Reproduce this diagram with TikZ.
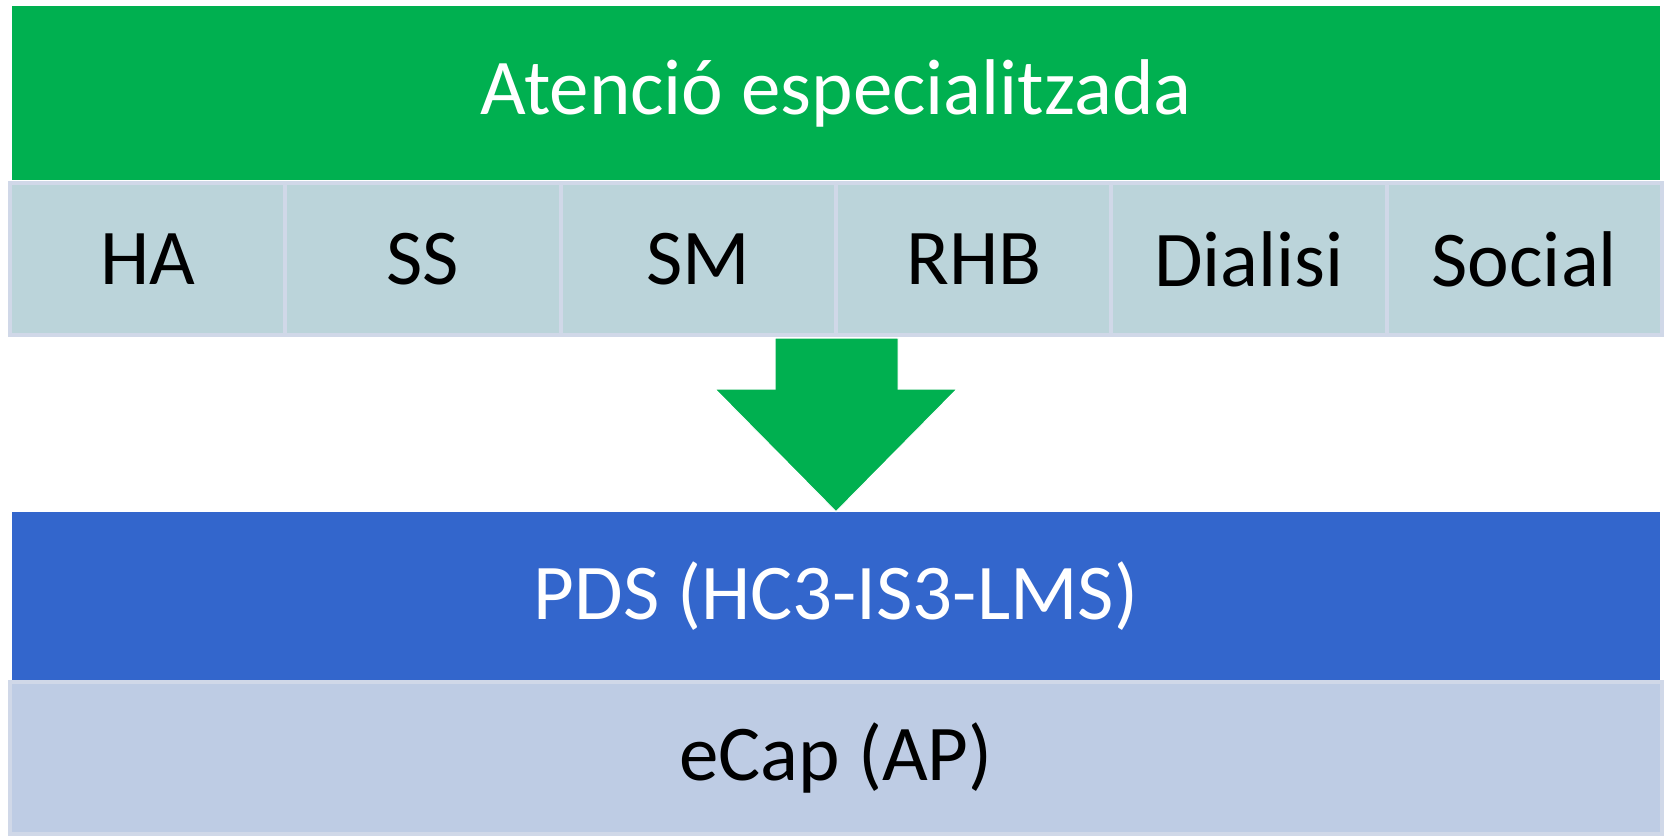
\documentclass[tikz,border=0pt]{standalone}
\usepackage{fontspec}
\setmainfont{Carlito}
\definecolor{specgreen}{RGB}{0,176,80}
\definecolor{cellfill}{RGB}{187,212,218}
\definecolor{cellline}{RGB}{208,216,232}
\definecolor{pdsblue}{RGB}{51,102,204}
\definecolor{apfill}{RGB}{190,204,228}
\begin{document}
\begin{tikzpicture}[x=0.5pt,y=-0.5pt]
    \tikzstyle{band}=[rectangle,inner sep=0pt,font=\fontsize{39.5}{47}\selectfont]
    \tikzstyle{top band}=[band,fill=specgreen,text=white,minimum width=824pt,minimum height=87pt];
    \tikzstyle{cell}=[band,fill=cellfill,draw=cellline,line width=2pt,minimum width=137.67pt,minimum height=76pt];
    \tikzstyle{pds band}=[band,fill=pdsblue,text=white,minimum width=824pt,minimum height=84pt];
    \tikzstyle{ap band}=[band,fill=apfill,draw=cellline,line width=2pt,minimum width=826pt,minimum height=76pt];
    \useasboundingbox (0,0) rectangle (1665,836);
    % Draw the top band and its services
      \node[top band] (AE) at (836,93) {Atenció especialitzada};
      \foreach \name/\txt [count=\i from 0] in {HA/HA,SS/SS,SM/SM,RHB/RHB,D/Dialisi,Soc/Social}
        \node[cell] (\name) at (147.67+275.33*\i,259) {\txt};
    % Draw the lower bands
      \node[pds band] (PDS) at (836,596) {PDS (HC3-IS3-LMS)};
      \node[ap band] (AP) at (836,758) {eCap (AP)};
    % Block arrow from services down to PDS
      \fill[specgreen,draw=white,line width=0.5pt] (775,338) -- (898,338) -- (898,389) -- (957,389)
           -- (PDS.north) -- (715,389) -- (775,389) -- cycle;
\end{tikzpicture}
\end{document}
